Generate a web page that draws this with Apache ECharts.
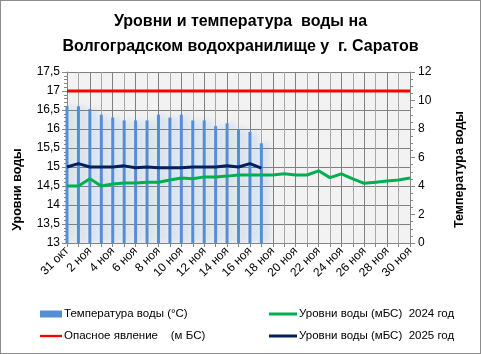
<!DOCTYPE html>
<html>
<head>
<meta charset="utf-8">
<script src="https://cdn.jsdelivr.net/npm/echarts@6/dist/echarts.min.js"></script>
<style>
  html, body { margin: 0; padding: 0; background: #fff; }
  #wrap { width: 479px; height: 352px; border: 1px solid #8c8c8c; }
  #chart { width: 479px; height: 352px; }
</style>
</head>
<body>
<div id="wrap"><div id="chart"></div></div>
<script>
// даты
const categories = ['31 окт', '1 ноя', '2 ноя', '3 ноя', '4 ноя', '5 ноя', '6 ноя', '7 ноя', '8 ноя', '9 ноя',
  '10 ноя', '11 ноя', '12 ноя', '13 ноя', '14 ноя', '15 ноя', '16 ноя', '17 ноя', '18 ноя', '19 ноя',
  '20 ноя', '21 ноя', '22 ноя', '23 ноя', '24 ноя', '25 ноя', '26 ноя', '27 ноя', '28 ноя', '29 ноя', '30 ноя'];
// температура воды, °C (правая ось)
const waterTemp = [9.6, 9.6, 9.4, 9.0, 8.8, 8.6, 8.6, 8.6, 9.0, 8.8, 9.0, 8.6, 8.6, 8.2, 8.4, 8.0, 7.8, 7.0];
// опасное явление, м БС
const dangerLevel = [17, 17, 17, 17, 17, 17, 17, 17, 17, 17, 17, 17, 17, 17, 17, 17,
  17, 17, 17, 17, 17, 17, 17, 17, 17, 17, 17, 17, 17, 17, 17];
// уровни воды 2024
const level2024 = [14.50, 14.50, 14.69, 14.50, 14.55, 14.58, 14.58, 14.60, 14.60, 14.66, 14.71, 14.69, 14.74,
  14.74, 14.76, 14.79, 14.79, 14.79, 14.79, 14.82, 14.79, 14.79, 14.90, 14.72, 14.82, 14.69, 14.57, 14.60,
  14.63, 14.66, 14.71];
// уровни воды 2025
const level2025 = [15.00, 15.09, 15.00, 15.00, 15.00, 15.03, 14.98, 15.00, 14.98, 14.98, 14.98, 15.00, 15.00,
  15.00, 15.03, 15.00, 15.09, 14.97];

const font = 'Liberation Sans';
const chart = echarts.init(document.getElementById('chart'));

const option = {
  animation: false,
  textStyle: { fontFamily: font },
  title: {
    text: 'Уровни и температура  воды на\nВолгоградском водохранилище у  г. Саратов',
    left: 'center',
    top: 8,
    padding: 0,
    textStyle: { fontFamily: font, fontSize: 16, fontWeight: 'bold', color: '#000', lineHeight: 25 }
  },
  grid: {
    left: 66,
    right: 70,
    top: 71,
    bottom: 110,
    show: true,
    backgroundColor: '#f2f2f2',
    borderWidth: 0
  },
  legend: [{
    orient: 'vertical',
    left: 39,
    top: 307,
    padding: 0,
    itemGap: 10,
    itemWidth: 22,
    itemHeight: 14,
    textStyle: { fontFamily: font, fontSize: 11.5, color: '#000', padding: [0, 0, 0, -3] },
    data: [
      { name: 'Температура воды (°C)', icon: 'path://M0,0 L22,0 L22,7 L0,7 Z', itemStyle: { color: '#558ed5' } },
      { name: 'Опасное явление    (м БС)', icon: 'path://M0,0 L28,0 L28,3 L0,3 Z', itemStyle: { color: '#ff0000' } }
    ]
  }, {
    orient: 'vertical',
    left: 268,
    top: 307,
    padding: 0,
    itemGap: 10,
    itemWidth: 28,
    itemHeight: 14,
    textStyle: { fontFamily: font, fontSize: 11.5, color: '#000', padding: [0, 0, 0, -3] },
    data: [
      { name: 'Уровни воды (мБС)  2024 год', icon: 'path://M0,0 L28,0 L28,3 L0,3 Z', itemStyle: { color: '#00b050' } },
      { name: 'Уровни воды (мБС)  2025 год', icon: 'path://M0,0 L28,0 L28,3 L0,3 Z', itemStyle: { color: '#002060' } }
    ]
  }],
  xAxis: {
    type: 'category',
    data: categories,
    boundaryGap: false,
    axisLine: { lineStyle: { color: '#868686' } },
    axisTick: { show: true, interval: 0, length: 4, lineStyle: { color: '#868686' } },
    axisLabel: { interval: 1, rotate: 45, fontSize: 12, color: '#000', margin: 6 },
    splitLine: { show: true, interval: 0, lineStyle: { color: ['#808080', '#a8a8a8'], width: 1 } }
  },
  yAxis: [{
    type: 'value',
    min: 13,
    max: 17.5,
    interval: 0.5,
    name: 'Уровни воды',
    nameLocation: 'middle',
    nameGap: 43,
    nameTextStyle: { fontFamily: font, fontSize: 12.5, fontWeight: 'bold', color: '#000', padding: [0, 64, 0, 0] },
    axisLine: { show: true, lineStyle: { color: '#868686' } },
    axisTick: { show: true, length: 5, lineStyle: { color: '#868686' } },
    minorTick: { show: true, splitNumber: 5, length: 3, lineStyle: { color: '#868686' } },
    axisLabel: {
      fontSize: 12, color: '#000', margin: 7,
      formatter: v => String(v).replace('.', ',')
    },
    splitLine: { show: true, lineStyle: { color: '#808080', width: 1 } }
  }, {
    type: 'value',
    min: 0,
    max: 12,
    interval: 2,
    position: 'right',
    name: 'Температура воды',
    nameLocation: 'middle',
    nameGap: 43,
    nameTextStyle: { fontFamily: font, fontSize: 12.5, fontWeight: 'bold', color: '#000', padding: [0, 24, 0, 0] },
    axisLine: { show: true, lineStyle: { color: '#868686' } },
    axisTick: { show: true, length: 5, lineStyle: { color: '#868686' } },
    minorTick: { show: true, splitNumber: 4, length: 3, lineStyle: { color: '#868686' } },
    axisLabel: { fontSize: 12, color: '#000', margin: 8 },
    splitLine: { show: false }
  }],
  series: [{
    name: 'Температура воды (°C)',
    type: 'bar',
    yAxisIndex: 1,
    data: waterTemp,
    barWidth: 3,
    z: 1,
    itemStyle: {
      color: '#558ed5',
      shadowColor: 'rgba(85, 142, 213, 0.45)',
      shadowBlur: 7,
      shadowOffsetX: 4
    }
  }, {
    name: 'Опасное явление    (м БС)',
    type: 'line',
    yAxisIndex: 0,
    data: dangerLevel,
    symbol: 'none',
    z: 3,
    lineStyle: { color: '#ff0000', width: 3 }
  }, {
    name: 'Уровни воды (мБС)  2024 год',
    type: 'line',
    yAxisIndex: 0,
    data: level2024,
    symbol: 'none',
    z: 3,
    lineStyle: { color: '#00b050', width: 3 }
  }, {
    name: 'Уровни воды (мБС)  2025 год',
    type: 'line',
    yAxisIndex: 0,
    data: level2025,
    symbol: 'none',
    z: 4,
    lineStyle: { color: '#002060', width: 3 }
  }]
};

chart.setOption(option);
</script>
</body>
</html>
